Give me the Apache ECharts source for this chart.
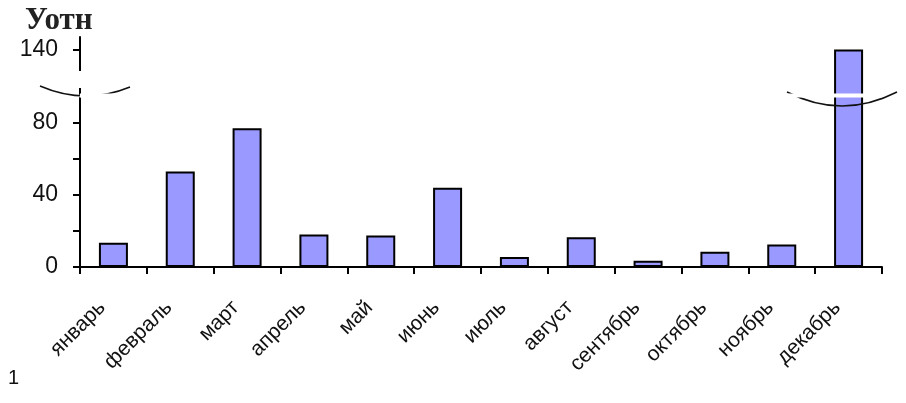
<!DOCTYPE html>
<html><head><meta charset="utf-8">
<script src="https://cdn.jsdelivr.net/npm/echarts@6/dist/echarts.min.js"></script>
<style>html,body{margin:0;padding:0;background:#fff}#c{width:906px;height:403px}</style>
</head><body><div id="c"></div>
<script>
var months = ['январь','февраль','март','апрель','май','июнь','июль','август','сентябрь','октябрь','ноябрь','декабрь'];
var values = [13.5, 53, 77, 18, 17.5, 44, 5.5, 16.5, 3.5, 8.5, 12.5, 140];
var yTicks = [0, 20, 40, 60, 80, 140];
var yLabels = [0, 40, 80, 140];

var chart = echarts.init(document.getElementById('c'), null, {renderer: 'canvas'});
chart.setOption({
  animation: false,
  backgroundColor: '#fff',
  title: {text: 'Уотн', left: 20, top: 0, textStyle: {fontFamily: 'Liberation Serif', fontWeight: 'bold', fontSize: 31, color: '#222'}},
  grid: {left: 80, right: 24, top: 37, bottom: 136, containLabel: false},
  xAxis: {
    type: 'category', data: months, boundaryGap: true,
    axisLine: {lineStyle: {color: '#000', width: 2}},
    axisTick: {show: true, alignWithLabel: false, length: 7, lineStyle: {color: '#000', width: 2}},
    axisLabel: {rotate: 45, margin: 26, interval: 0, padding: [0, 16, 0, 0], fontFamily: 'Liberation Sans', fontSize: 21, color: '#111'}
  },
  yAxis: {
    type: 'value', min: 0, max: 147,
    breaks: [{start: 94, end: 115.5, gap: '1.7%'}],
    breakArea: {show: true, zigzagAmplitude: 0, itemStyle: {color: '#fff', borderColor: '#fff', borderWidth: 0, opacity: 1}},
    splitLine: {show: false},
    axisLine: {show: true, lineStyle: {color: '#000', width: 2}},
    axisTick: {show: true, length: 7, customValues: yTicks, lineStyle: {color: '#000', width: 2}},
    axisLabel: {customValues: yLabels, margin: 22, fontFamily: 'Liberation Sans', fontSize: 23, color: '#111'}
  },
  series: [{
    type: 'bar', data: values, barWidth: 29,
    itemStyle: {color: '#9999FF', borderColor: '#000', borderWidth: 2}
  }],
  graphic: [
    {type: 'bezierCurve', shape: {x1: 40, y1: 86, x2: 130, y2: 87, cpx1: 85, cpy1: 105.5}, style: {stroke: '#111', lineWidth: 1.5, fill: null}, z: 100},
    {type: 'bezierCurve', shape: {x1: 787, y1: 92, x2: 897, y2: 92, cpx1: 842, cpy1: 120}, style: {stroke: '#111', lineWidth: 1.5, fill: null}, z: 100},
    {type: 'rect', shape: {x: 74, y: 71, width: 12, height: 17}, style: {fill: '#fff'}, z: 99},
    {type: 'text', left: 8, top: 368, style: {text: '1', font: '20px Liberation Sans', fill: '#111'}}
  ]
});
</script></body></html>
